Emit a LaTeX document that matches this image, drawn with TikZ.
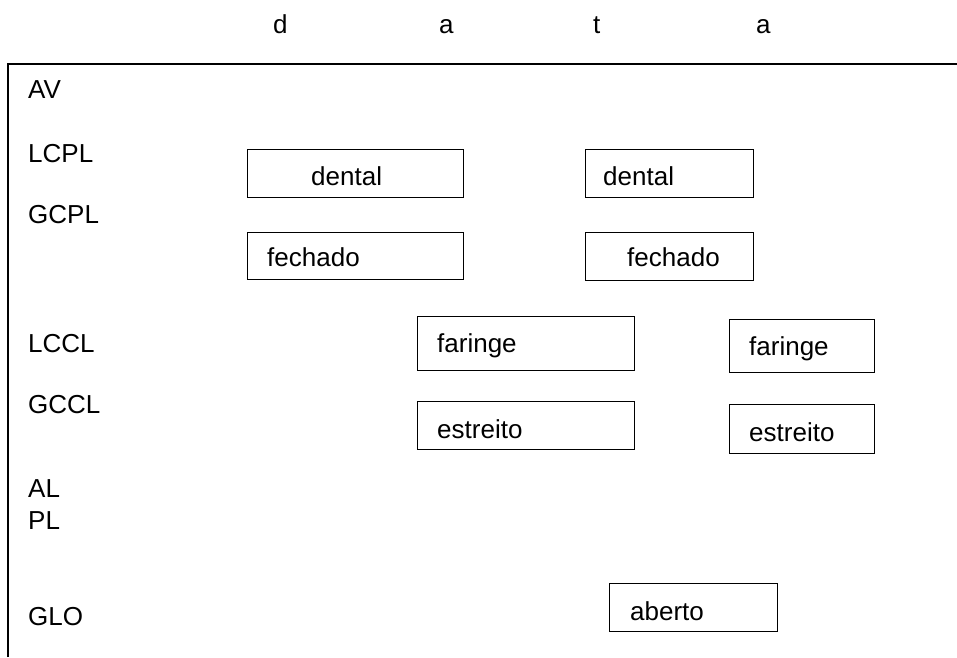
\documentclass[tikz,border=0pt]{standalone}
\usepackage{fontspec}
\setmainfont{Liberation Sans}
\begin{document}
\begin{tikzpicture}[x=1pt,y=-1pt,
  box/.style={draw, line width=1.3pt, anchor=north west, inner sep=0pt},
  lbl/.style={anchor=base west, inner sep=0pt, font=\fontsize{26}{31}\selectfont}]
\useasboundingbox (0,0) rectangle (957,657);
% frame
\coordinate (fbl) at (8,657);
\coordinate (ftl) at (8,64);
\coordinate (ftr) at (957,64);
\draw[line width=1.8pt] (fbl) -- (ftl) -- (ftr);
% top letters
\node[lbl] (l1) at (273,33) {d};
\node[lbl] (l2) at (439,33) {a};
\node[lbl] (l3) at (593,33) {t};
\node[lbl] (l4) at (756,33) {a};
% row labels
\node[lbl] (av) at (28,98) {AV};
\node[lbl] (lcpl) at (28,162) {LCPL};
\node[lbl] (gcpl) at (28,223) {GCPL};
\node[lbl] (lccl) at (28,352) {LCCL};
\node[lbl] (gccl) at (28,413) {GCCL};
\node[lbl] (al) at (28,497) {AL};
\node[lbl] (pl) at (28,529) {PL};
\node[lbl] (glo) at (28,625) {GLO};
% boxes
\node[box, minimum width=216pt, minimum height=48pt] (b1) at (247,149) {};
\node[lbl] (t1) at (311,185) {dental};
\node[box, minimum width=216pt, minimum height=47pt] (b2) at (247,232) {};
\node[lbl] (t2) at (267,266) {fechado};
\node[box, minimum width=168pt, minimum height=48pt] (b3) at (585,149) {};
\node[lbl] (t3) at (603,185) {dental};
\node[box, minimum width=168pt, minimum height=48pt] (b4) at (585,232) {};
\node[lbl] (t4) at (627,266) {fechado};
\node[box, minimum width=217pt, minimum height=54pt] (b5) at (417,316) {};
\node[lbl] (t5) at (437,352) {faringe};
\node[box, minimum width=217pt, minimum height=48pt] (b6) at (417,401) {};
\node[lbl] (t6) at (437,438) {estreito};
\node[box, minimum width=145pt, minimum height=53pt] (b7) at (729,319) {};
\node[lbl] (t7) at (749,355) {faringe};
\node[box, minimum width=145pt, minimum height=49pt] (b8) at (729,404) {};
\node[lbl] (t8) at (749,441) {estreito};
\node[box, minimum width=168pt, minimum height=48pt] (b9) at (609,583) {};
\node[lbl] (t9) at (630,620) {aberto};
\end{tikzpicture}
\end{document}
